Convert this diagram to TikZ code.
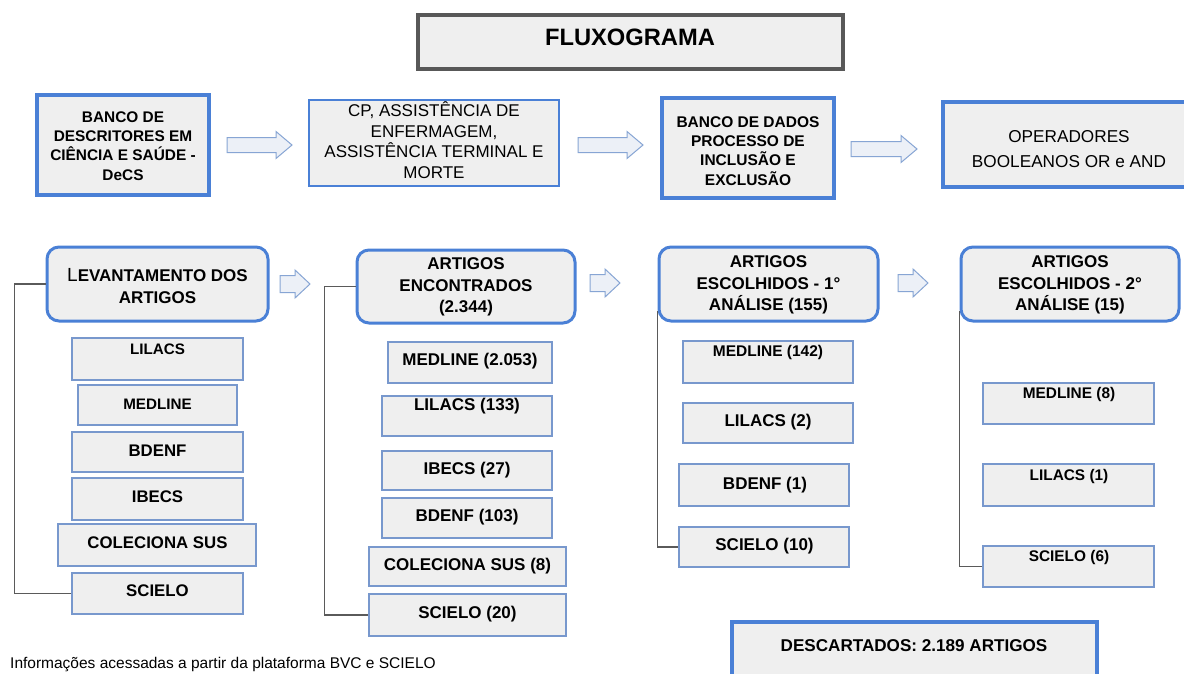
\documentclass[tikz,border=0pt]{standalone}
\usepackage{fontspec}
\setmainfont{Liberation Sans}
\definecolor{boxfill}{RGB}{239,239,239}
\definecolor{bblue}{RGB}{74,128,214}
\definecolor{lblue}{RGB}{120,152,205}
\definecolor{dgray}{RGB}{88,88,88}
\definecolor{lgray}{RGB}{90,90,90}
\definecolor{arrfill}{RGB}{236,240,247}
\definecolor{arrdraw}{RGB}{135,165,212}
\tikzset{
  titlebox/.style={draw=dgray, line width=4pt, fill=boxfill, inner sep=0pt},
  bigbox/.style={draw=bblue, line width=3.5pt, fill=boxfill, inner sep=0pt},
  midbox/.style={draw=bblue, line width=2.6pt, fill=boxfill, inner sep=0pt},
  roundbox/.style={draw=bblue, line width=3pt, fill=boxfill, inner sep=0pt, rounded corners=12pt},
  listbox/.style={draw=lblue, line width=1.2pt, fill=boxfill, inner sep=0pt},
  barrow/.style={draw=arrdraw, line width=1pt, fill=arrfill, line join=miter},
  bracket/.style={draw=lgray, line width=1.2pt},
  tb/.style={inner sep=0pt, text height=0.716em, text depth=0pt, font=\bfseries\fontsize{#1}{#1}\selectfont},
  tb/.default=17,
  ml/.style={inner sep=0pt, align=center},
}
\newcommand\bx[6][]{\node[#1, minimum width={#5-#3}, minimum height={#6-#4}] (#2) at ({(#3+#5)/2},{(#4+#6)/2}) {};}
\newcommand\barr[6]{\draw[barrow] (#1,{#2-#4}) -- ({#1+#3-#6},{#2-#4}) -- ({#1+#3-#6},{#2-#5}) -- ({#1+#3},#2) -- ({#1+#3-#6},{#2+#5}) -- ({#1+#3-#6},{#2+#4}) -- (#1,{#2+#4}) -- cycle;}
\begin{document}
\begin{tikzpicture}[x=1pt,y=-1pt]
\useasboundingbox (0,0) rectangle (1184,673);
\clip (0,0) rectangle (1184,673);
\fill[white] (0,0) rectangle (1184,673);

% title
\bx[titlebox]{title}{418}{15}{843}{69}
\node[tb=23.7] (titlet) at (630,42) {FLUXOGRAMA};

% top row
\bx[bigbox]{b1}{37}{95}{209}{195}
\node[ml, font=\bfseries\fontsize{15.4}{19.3}\selectfont] (b1t) at (123,146) {BANCO DE\\DESCRITORES EM\\CIÊNCIA E SAÚDE -\\DeCS};
\bx[midbox]{b2}{309}{100}{559}{186}
\node[ml, font=\fontsize{17}{20.5}\selectfont] (b2t) at (434,140) {CP, ASSISTÊNCIA DE\\ENFERMAGEM,\\ASSISTÊNCIA TERMINAL E\\MORTE};
\bx[bigbox]{b3}{662}{98}{834}{198}
\node[ml, font=\bfseries\fontsize{15.5}{19.2}\selectfont] (b3t) at (748,151) {BANCO DE DADOS\\PROCESSO DE\\INCLUSÃO E\\EXCLUSÃO};
\bx[bigbox]{b4}{943}{102}{1195}{187}
\node[ml, font=\fontsize{17.2}{25}\selectfont] (b4t) at (1069,149) {OPERADORES\\BOOLEANOS OR e AND};

\barr{227}{145}{65}{7.5}{13.5}{16}
\barr{578}{145}{65}{7.5}{13.5}{16}
\barr{851}{149}{66}{7.5}{13.5}{16}

% headings
\bx[roundbox]{lev}{47}{247}{268}{321}
\node[ml, font=\bfseries\fontsize{17}{22}\selectfont] (levt) at (157.5,286) {{\fontsize{19}{22}\mdseries L}EVANTAMENTO DOS\\ARTIGOS};
\bx[roundbox]{enc}{357}{250}{575}{323}
\node[ml, font=\bfseries\fontsize{17}{21.5}\selectfont] (enct) at (466,287) {ARTIGOS\\ENCONTRADOS\\(2.344)};
\bx[roundbox]{esc1}{659}{247}{878}{321}
\node[ml, font=\bfseries\fontsize{17}{21.5}\selectfont] (esc1t) at (768.5,285) {ARTIGOS\\ESCOLHIDOS - 1°\\ANÁLISE (155)};
\bx[roundbox]{esc2}{961}{247}{1179}{321}
\node[ml, font=\bfseries\fontsize{17}{21.5}\selectfont] (esc2t) at (1070,285) {ARTIGOS\\ESCOLHIDOS - 2°\\ANÁLISE (15)};

\barr{280}{284}{30}{8.5}{14}{15}
\barr{590}{283}{30}{8.5}{14}{15}
\barr{898}{283}{30}{8.5}{14}{15}

% column 1
\bx[listbox]{c1a}{72}{338}{243}{380}
\node[tb=15.2] (c1at) at (157.5,351) {LILACS};
\bx[listbox]{c1b}{78}{385}{237}{425}
\node[tb=15.2] (c1bt) at (157.5,406) {MEDLINE};
\bx[listbox]{c1c}{72}{432}{243}{472}
\node[tb=16.8] (c1ct) at (157.5,453) {BDENF};
\bx[listbox]{c1d}{72}{478}{243}{520}
\node[tb=16.8] (c1dt) at (157.5,499) {IBECS};
\bx[listbox]{c1e}{58}{524}{256}{566}
\node[tb=16.8] (c1et) at (157.5,545) {COLECIONA SUS};
\bx[listbox]{c1f}{72}{573}{243}{614}
\node[tb=16.8] (c1ft) at (157.5,593) {SCIELO};
\draw[bracket] (lev.west) -- ++(-31,0) |- (c1f.west);

% column 2
\bx[listbox]{c2a}{388}{342}{552}{383}
\node[tb=17] (c2at) at (470,362) {MEDLINE (2.053)};
\bx[listbox]{c2b}{382}{396}{552}{436}
\node[tb=17] (c2bt) at (467,407) {LILACS (133)};
\bx[listbox]{c2c}{382}{451}{552}{490}
\node[tb=17] (c2ct) at (467,471) {IBECS (27)};
\bx[listbox]{c2d}{382}{498}{552}{538}
\node[tb=17] (c2dt) at (467,518) {BDENF (103)};
\bx[listbox]{c2e}{369}{547}{566}{586}
\node[tb=17] (c2et) at (467.5,567) {COLECIONA SUS (8)};
\bx[listbox]{c2f}{369}{594}{566}{636}
\node[tb=17] (c2ft) at (467.5,615) {SCIELO (20)};
\draw[bracket] (enc.west) -- ++(-31,0) |- (c2f.west);

% column 3
\bx[listbox]{c3a}{683}{341}{853}{383}
\node[tb=15.5] (c3at) at (768,353) {MEDLINE (142)};
\bx[listbox]{c3b}{683}{403}{853}{443}
\node[tb=17] (c3bt) at (768,423) {LILACS (2)};
\bx[listbox]{c3c}{679}{464}{849}{506}
\node[tb=17] (c3ct) at (765,486) {BDENF (1)};
\bx[listbox]{c3d}{679}{527}{849}{567}
\node[tb=17] (c3dt) at (764.5,547) {SCIELO (10)};
\draw[bracket] ([yshift=12pt]esc1.south west) |- (c3d.west);

% column 4
\bx[listbox]{c4a}{983}{383}{1154}{424}
\node[tb=15.4] (c4at) at (1069,395) {MEDLINE (8)};
\bx[listbox]{c4b}{983}{464}{1154}{506}
\node[tb=15.4] (c4bt) at (1069,477) {LILACS (1)};
\bx[listbox]{c4c}{983}{546}{1154}{587}
\node[tb=15.4] (c4ct) at (1069,558) {SCIELO (6)};
\draw[bracket] ([yshift=12pt]esc2.south west) |- (c4c.west);

% bottom
\bx[bigbox]{desc}{732}{622}{1097}{690}
\node[tb=17.1] (desct) at (914,648) {DESCARTADOS: 2.189 ARTIGOS};
\node[anchor=west, inner sep=0pt, text height=0.716em, text depth=0pt, font=\fontsize{15.5}{15.5}\selectfont] (foot) at (10,665) {Informações acessadas a partir da plataforma BVC e SCIELO};
\end{tikzpicture}
\end{document}
